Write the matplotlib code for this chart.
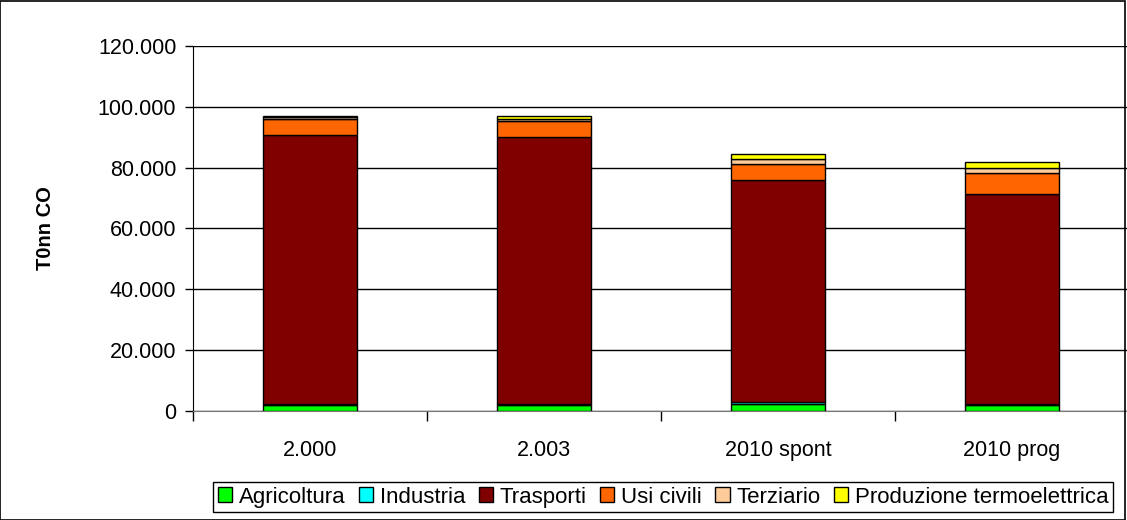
import numpy as np
import matplotlib.pyplot as plt
from matplotlib.patches import Rectangle

plt.rcParams['font.family'] = ['Liberation Sans', 'DejaVu Sans']

# data (tonnes CO)
categorie = ['2.000', '2.003', '2010 spont', '2010 prog']
agricoltura = [2000, 2000, 2200, 2000]
industria = [300, 300, 600, 300]
trasporti = [88500, 87700, 73100, 69100]
usi_civili = [5300, 5400, 5400, 7000]
terziario = [400, 500, 1700, 1600]
produzione = [600, 1000, 1600, 1700]

serie = [('Agricoltura', agricoltura, '#00ff00'),
         ('Industria', industria, '#00ffff'),
         ('Trasporti', trasporti, '#800000'),
         ('Usi civili', usi_civili, '#ff6600'),
         ('Terziario', terziario, '#ffcc99'),
         ('Produzione termoelettrica', produzione, '#ffff00')]

fig = plt.figure(figsize=(11.27, 5.2), dpi=100)
ax = fig.add_axes([193/1127, 109/520, 936/1127, 365/520])

x = np.arange(len(categorie))
base = np.zeros(len(categorie))
for nome, val, col in serie:
    ax.bar(x, val, 0.40, bottom=base, color=col, edgecolor='black',
           linewidth=1, label=nome, zorder=3)
    base = base + np.array(val)

ax.set_xlim(-0.5, 3.5)
ax.set_ylim(0, 120000)
ax.set_yticks(np.arange(0, 120001, 20000))
ax.set_yticklabels(['0', '20.000', '40.000', '60.000', '80.000', '100.000', '120.000'])
ax.set_xticks(x)
ax.set_xticklabels(categorie)
ax.set_xticks([-0.5, 0.5, 1.5, 2.5, 3.5], minor=True)
ax.tick_params(axis='x', which='major', length=0, pad=21, labelsize=15.5)
ax.tick_params(axis='x', which='minor', length=7, width=1, direction='out')
ax.tick_params(axis='y', length=6, width=1, pad=6, labelsize=15.5)
ax.yaxis.grid(True, color='black', linewidth=1, zorder=0)
ax.set_axisbelow(True)
for s in ['top', 'right']:
    ax.spines[s].set_visible(False)
ax.spines['left'].set_color('black')
ax.spines['bottom'].set_color('#777777')
ax.set_ylabel('T0nn CO', fontsize=14.5, fontweight='bold', labelpad=31)

leg = fig.legend(loc='lower center', bbox_to_anchor=(663/1127, 8/520), ncol=6,
                 frameon=True, fancybox=False, edgecolor='black', framealpha=1,
                 prop={'size': 16},
                 handlelength=0.65, handleheight=0.65, handletextpad=0.3,
                 columnspacing=0.6, borderpad=0.2, borderaxespad=0)
leg.get_frame().set_linewidth(1)

fig.patches.append(Rectangle((0, 0), 1125/1127, 519/520, transform=fig.transFigure,
                             fill=False, edgecolor='black', linewidth=1.2))

fig.savefig('out.png', dpi=100)
